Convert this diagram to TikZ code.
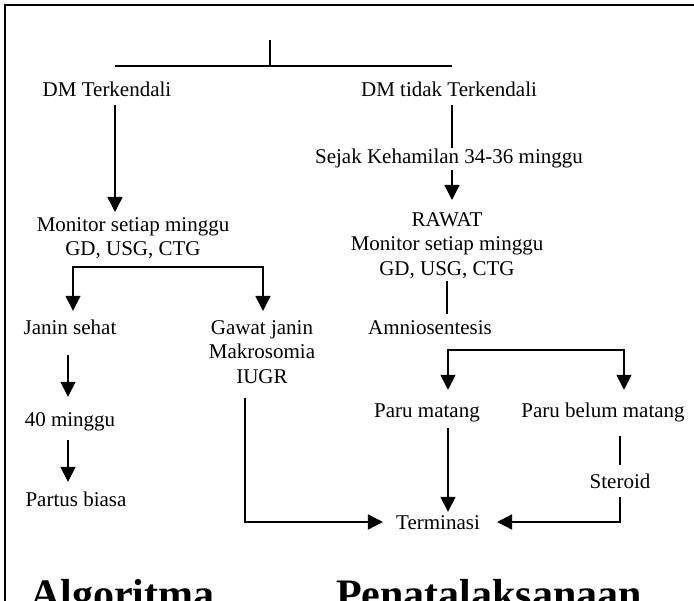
\documentclass[tikz,border=0pt]{standalone}
\usepackage{fontspec}
\setmainfont{Liberation Serif}
\usetikzlibrary{arrows.meta,calc}
\begin{document}
\begin{tikzpicture}[x=1pt,y=-1pt,
  lbl/.style={font=\fontsize{21}{24.5}\selectfont, inner xsep=0pt, inner ysep=3pt, text height=15pt, text depth=5pt, anchor=base},
  mlbl/.style={font=\fontsize{21}{24.5}\selectfont, inner xsep=0pt, inner ysep=3pt, align=center, anchor=north},
  ttl/.style={font=\bfseries\fontsize{42}{42}\selectfont, inner sep=0pt},
  conn/.style={line width=1.5pt},
  tip/.tip={Triangle[width=15pt,length=15pt]},
  arr/.style={conn,-tip},
  bi/.style={conn,tip-tip}]
\useasboundingbox (0,0) rectangle (694,601);
\clip (0,0) rectangle (694,601);
\fill[white] (0,0) rectangle (694,601);
\draw[line width=2.5pt] (5,760) -- (5,5) -- (780,5);

% nodes
\coordinate (root) at (270,40);
\node[lbl] (dmt)   at (107,97)  {DM Terkendali};
\node[lbl] (dmtt)  at (449,97)  {DM tidak Terkendali};
\node[lbl] (sejak) at (449,164) {Sejak Kehamilan 34-36 minggu};
\node[mlbl] (mon1) at (133,214) {Monitor setiap minggu\\GD, USG, CTG};
\node[mlbl] (rawat) at (447,209) {RAWAT\\Monitor setiap minggu\\GD, USG, CTG};
\node[lbl] (js)    at (70,335)  {Janin sehat};
\node[mlbl] (gj)   at (262,317) {Gawat janin\\Makrosomia\\IUGR};
\node[lbl] (amnio) at (430,335) {Amniosentesis};
\node[lbl] (fm)    at (70,427)  {40 minggu};
\node[lbl] (pb)    at (76,507)  {Partus biasa};
\node[lbl] (pm)    at (427,418) {Paru matang};
\node[lbl] (pbm)   at (603,418) {Paru belum matang};
\node[lbl] (ster)  at (620,489) {Steroid};
\node[lbl] (term)  at (438,530) {Terminasi};
\node[ttl, anchor=base west] (t1) at (30,608) {Algoritma};
\node[ttl, anchor=base east] (t2) at (642,608) {Penatalaksanaan};

% connectors
\draw[conn] (root) -- ++(0,26);
\draw[conn] ($(dmt.north)+(8,-13)$) -- ($(dmtt.north)+(3,-13)$);
\draw[arr] ($(dmt.south)+(8,0)$) -- ($(mon1.north)+(-18,-2)$);
\draw[conn] ($(dmtt.south)+(3,0)$) -- ($(sejak.north)+(3,2)$);
\draw[arr] ($(sejak.south)+(3,-2)$) -- ($(rawat.north)+(5,-9)$);
\draw[conn] (rawat.south) -- ($(amnio.north)+(17,-3)$);
\draw[bi] ($(js.north)+(3,-6)$) |- ($(mon1.south)+(0,5)$) -| ($(gj.north)+(1,-6)$);
\draw[arr] ($(js.south)+(-2,12)$) -- ($(fm.north)+(-2,-12)$);
\draw[arr] ($(fm.south)+(-2,5)$) -- ($(pb.north)+(-8,-7)$);
\draw[bi] ($(pm.north)+(21,-10)$) |- ($(amnio.south)+(80,7)$) -| ($(pbm.north)+(21,-10)$);
\draw[arr] ($(pm.south)+(21,2)$) -- ($(term.north)+(10,0)$);
\draw[conn] ($(pbm.south)+(17,10)$) -- ($(ster.north)+(0,-6)$);
\draw[arr] (ster.south) |- ($(term.east)+(17,-3)$);
\draw[arr] ($(gj.south)+(-17,11)$) |- ($(term.west)+(-13,-3)$);
\end{tikzpicture}
\end{document}
